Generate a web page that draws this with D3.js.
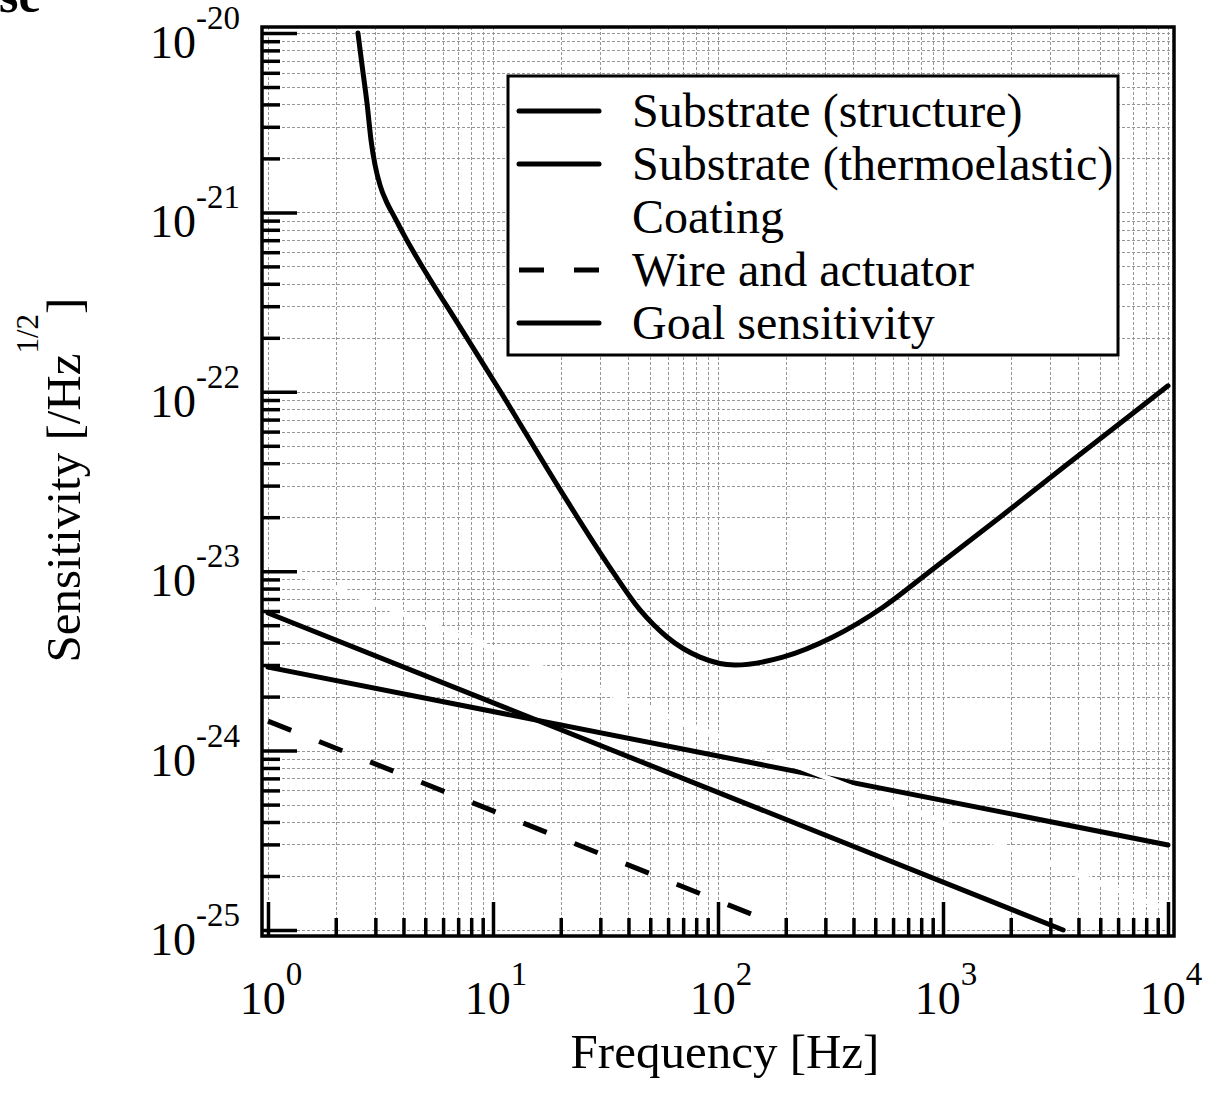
<!DOCTYPE html>
<html>
<head>
<meta charset="utf-8">
<script src="https://cdn.jsdelivr.net/npm/d3@7"></script>
<style>
  body { margin: 0; background: #fff; }
  text { font-family: "Liberation Serif", "Times New Roman", serif; fill: #000; }
</style>
</head>
<body>
<div id="chart"></div>
<script>
// axis decades
const freqDecades = [1, 10, 100, 1000, 10000];
const freqExponents = ["0", "1", "2", "3", "4"];
const sensDecades = [1e-20, 1e-21, 1e-22, 1e-23, 1e-24, 1e-25];
const sensExponents = ["-20", "-21", "-22", "-23", "-24", "-25"];

// noise curves
const structureFreq = [1, 10000];
const structureVal = [2.92e-24, 2.98e-25];

const thermoFreq = [1, 3420];
const thermoVal = [5.85e-24, 1.0e-25];

const coatingFreq = [1, 10000];
const coatingVal = [1.13e-23, 1.3e-25];

const wireFreq = [1, 175];
const wireVal = [1.46e-24, 1.10e-25];

const goalFreq = [2.51, 2.617, 2.754, 2.87, 2.99, 3.146, 3.38, 3.67, 3.98, 4.41, 4.89, 7.13, 10.7, 19.9,
                  32.1, 45, 59.3, 83.2, 119, 194, 324, 541, 903, 1792, 3556, 6982, 10000];
const goalVal = [1e-20, 6.64e-21, 4.07e-21, 2.53e-21, 1.84e-21, 1.42e-21, 1.13e-21, 9.3e-22, 7.67e-22,
                 6.09e-22, 4.9e-22, 2.3e-22, 1.02e-22, 2.84e-23, 1.11e-23, 6.08e-24, 4.3e-24, 3.32e-24,
                 3.0e-24, 3.32e-24, 4.3e-24, 6.3e-24, 1.03e-23, 2.0e-23, 3.93e-23, 7.6e-23, 1.08e-22];

const legendLabels = ["Substrate (structure)", "Substrate (thermoelastic)", "Coating", "Wire and actuator", "Goal sensitivity"];
const legendColors = ["#000", "#000", "#fff", "#000", "#000"];
const legendDash = [null, null, null, "25,30", null];

const W = 1208, H = 1114;
const frame = {left: 262, top: 27, right: 1174, bottom: 936};

const svg = d3.select("#chart").append("svg")
  .attr("width", W)
  .attr("height", H);

const x = d3.scaleLog().domain([1, 1e4]).range([268, 1168]);
const y = d3.scaleLog().domain([1e-20, 1e-25]).range([33, 930]);

// minor + major tick values
const freqTicks = [];
freqDecades.slice(0, -1).forEach(d => { for (let k = 1; k < 10; k++) freqTicks.push(d * k); });
freqTicks.push(1e4);
const sensTicks = [];
sensDecades.slice(1).forEach(d => { for (let k = 1; k < 10; k++) sensTicks.push(d * k); });
sensTicks.push(1e-20);
const freqMinor = freqTicks.filter(v => !freqDecades.includes(v));
const sensMinor = sensTicks.filter(v => !sensDecades.some(d => Math.abs(d - v) / d < 1e-6));

// grid
const grid = svg.append("g")
  .attr("stroke", "#959595")
  .attr("stroke-width", 1)
  .attr("stroke-dasharray", "3,2");

grid.selectAll("line.v").data(freqTicks).join("line")
  .attr("class", "v")
  .attr("x1", d => Math.round(x(d)) + 0.5).attr("x2", d => Math.round(x(d)) + 0.5)
  .attr("y1", frame.top).attr("y2", frame.bottom);

grid.selectAll("line.h").data(sensTicks).join("line")
  .attr("class", "h")
  .attr("y1", d => Math.round(y(d)) + 0.5).attr("y2", d => Math.round(y(d)) + 0.5)
  .attr("x1", frame.left).attr("x2", frame.right);

// curves
const line = d3.line()
  .x(d => x(d[0]))
  .y(d => y(d[1]));

function drawSeries(freq, val, color, dash, curve) {
  const pts = freq.map((f, i) => [f, val[i]]);
  svg.append("path")
    .datum(pts)
    .attr("fill", "none")
    .attr("stroke", color)
    .attr("stroke-width", 5)
    .attr("stroke-dasharray", dash)
    .attr("stroke-linecap", dash ? "butt" : "round")
    .attr("d", line.curve(curve || d3.curveLinear));
}

drawSeries(structureFreq, structureVal, "#000", null);
drawSeries(thermoFreq, thermoVal, "#000", null);
drawSeries(coatingFreq, coatingVal, "#fff", null);
drawSeries(wireFreq, wireVal, "#000", "25,30");
drawSeries(goalFreq, goalVal, "#000", null, d3.curveMonotoneX);

// frame
svg.append("rect")
  .attr("x", frame.left).attr("y", frame.top)
  .attr("width", frame.right - frame.left)
  .attr("height", frame.bottom - frame.top)
  .attr("fill", "none")
  .attr("stroke", "#000")
  .attr("stroke-width", 3.5);

// inward ticks
function tickAxis(axis, vals, size, tr) {
  const g = svg.append("g")
    .attr("transform", tr)
    .call(axis.tickValues(vals).tickSize(-size).tickFormat(""));
  g.select(".domain").remove();
  g.selectAll(".tick line").attr("stroke", "#000").attr("stroke-width", 3.5);
}
tickAxis(d3.axisLeft(y), sensDecades, 35, `translate(${frame.left},0)`);
tickAxis(d3.axisLeft(y), sensMinor, 18, `translate(${frame.left},0)`);
tickAxis(d3.axisBottom(x), freqDecades, 34, `translate(0,${frame.bottom})`);
tickAxis(d3.axisBottom(x), freqMinor, 18, `translate(0,${frame.bottom})`);

// tick labels
const yLab = svg.append("g").selectAll("text").data(sensDecades).join("text")
  .attr("x", 240)
  .attr("y", d => y(d) + 25)
  .attr("text-anchor", "end")
  .attr("font-size", 46);
yLab.append("tspan").text("10");
yLab.append("tspan").attr("font-size", 33).attr("dy", -29).text((d, i) => sensExponents[i]);

const xLab = svg.append("g").selectAll("text").data(freqDecades).join("text")
  .attr("x", d => x(d) + 3)
  .attr("y", 1014)
  .attr("text-anchor", "middle")
  .attr("font-size", 46);
xLab.append("tspan").text("10");
xLab.append("tspan").attr("font-size", 33).attr("dy", -29).text((d, i) => freqExponents[i]);

// axis titles
svg.append("text")
  .attr("x", 725)
  .attr("y", 1068)
  .attr("text-anchor", "middle")
  .attr("font-size", 49)
  .text("Frequency [Hz]");

const yTitle = svg.append("text")
  .attr("transform", "translate(80,480) rotate(-90)")
  .attr("text-anchor", "middle")
  .attr("font-size", 49)
  .text("Sensitivity [/Hz");
yTitle.append("tspan").attr("font-size", 31).attr("dy", -42).text("1/2");
yTitle.append("tspan").attr("dy", 42).text("]");

// cut-off heading in the corner
svg.append("text")
  .attr("x", -1)
  .attr("y", 12)
  .attr("font-size", 50)
  .attr("font-weight", "bold")
  .text("se");

// legend
const legend = svg.append("g");
legend.append("rect")
  .attr("x", 508).attr("y", 76)
  .attr("width", 610).attr("height", 279)
  .attr("fill", "#fff")
  .attr("stroke", "#000")
  .attr("stroke-width", 3);

const rows = legend.selectAll("g.row").data(legendLabels).join("g")
  .attr("class", "row")
  .attr("transform", (d, i) => `translate(0,${111 + i * 53})`);
rows.append("line")
  .attr("x1", 519).attr("x2", 599)
  .attr("stroke", (d, i) => legendColors[i])
  .attr("stroke-width", 5)
  .attr("stroke-dasharray", (d, i) => legendDash[i])
  .attr("stroke-linecap", (d, i) => legendDash[i] ? "butt" : "round");
rows.append("text")
  .attr("x", 632)
  .attr("y", 16)
  .attr("font-size", 48)
  .text(d => d);
</script>
</body>
</html>
